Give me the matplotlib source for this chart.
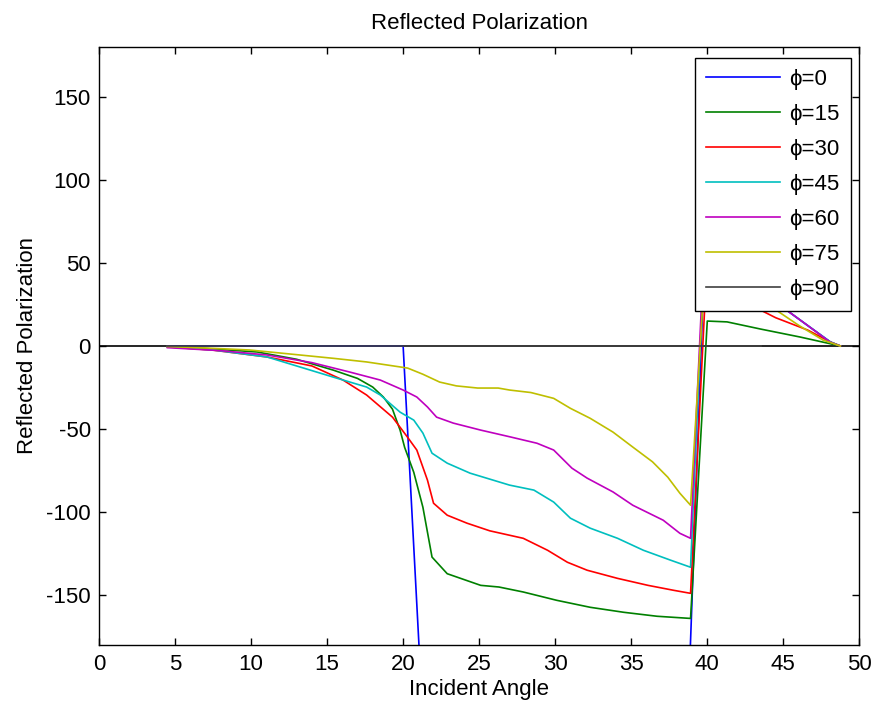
import matplotlib.pyplot as plt

plt.rcParams['font.family'] = ['Liberation Sans', 'DejaVu Sans']
plt.rcParams['axes.unicode_minus'] = False

# incident angle / reflected polarization for each phi
x0 = [4.5, 20.0, 21.1, 38.85, 39.9, 42.0, 44.0, 45.0, 46.5, 48.1, 48.75]
y0 = [0, 0, -190, -190, 75, 52, 32, 23, 13, 2.4, 0]

x15 = [4.5, 7.0, 10.4, 13.0, 15.4, 17.0, 18.0, 18.7, 19.3, 19.8, 20.1, 20.7, 21.3, 21.9, 22.9,
       25.1, 26.3, 27.9, 30.1, 32.3, 34.5, 36.7, 38.9, 40.0, 41.3, 43.5, 46.1, 48.75]
y15 = [-0.5, -1.5, -3.6, -8, -14.5, -19.5, -24.7, -30.7, -38, -50.6, -61, -76, -97, -127, -137,
       -144, -145, -148, -153, -157.2, -160.2, -162.6, -163.9, 15, 14.5, 10.2, 5.4, 0]

x30 = [4.5, 7.5, 11.05, 14.0, 16.05, 17.6, 19.3, 20.3, 20.9, 21.6, 22.0, 22.9, 24.2, 25.7, 27.9,
       29.5, 30.8, 32.1, 34.1, 36.1, 37.8, 38.9, 39.9, 41.0, 42.2, 43.2, 44.5, 46.6, 48.1, 48.75]
y30 = [-0.5, -2.5, -6.6, -12, -20.5, -29.5, -42.8, -55, -62.6, -80.7, -94.6, -101.8, -106.6, -111.2, -115.7,
       -122.9, -130.1, -134.9, -139.8, -144, -147, -148.8, 36, 32, 27.5, 23, 17, 9.6, 2.4, 0]

x45 = [4.5, 7.5, 11.05, 15.4, 17.6, 18.5, 19.8, 20.7, 21.3, 21.9, 22.9, 24.4, 25.7, 27.0, 28.6,
       29.9, 31.0, 32.3, 34.1, 35.8, 37.6, 38.9, 39.9, 42.0, 44.0, 45.0, 46.5, 48.1, 48.75]
y45 = [-0.5, -2.4, -6.6, -18.7, -24.7, -29.5, -39.8, -44.6, -52.4, -64.5, -70.5, -76.5, -80.1, -83.7, -86.7,
       -93.9, -103.6, -109.6, -115.7, -122.9, -128.9, -133.1, 75, 52, 32, 23, 13, 2.4, 0]

x60 = [4.5, 8.0, 11.05, 14.0, 16.5, 18.5, 20.0, 20.9, 21.6, 22.2, 23.3, 25.1, 27.0, 28.8, 29.9,
       31.1, 32.1, 33.8, 35.1, 37.1, 38.2, 38.9, 39.9, 42.0, 44.0, 45.0, 46.5, 48.1, 48.75]
y60 = [-1, -2.8, -5.4, -10, -15.7, -20.5, -26.5, -30.7, -36.7, -42.8, -46.4, -50.6, -54.6, -58.5, -62.6,
       -73.5, -79.5, -87.8, -95.8, -104.8, -112.7, -115.7, 80, 55, 34, 23, 13, 2.2, 0]

x75 = [4.5, 7.0, 9.9, 13.2, 15.5, 17.6, 19.8, 20.3, 21.3, 22.4, 23.5, 24.9, 26.25, 27.0, 28.4,
       29.9, 31.0, 32.3, 33.8, 35.1, 36.4, 37.4, 38.2, 38.9, 39.9, 41.5, 43.0, 44.3, 46.0, 47.6, 48.75]
y75 = [-0.3, -1.2, -2.4, -5.4, -7.5, -9.6, -12.6, -13.3, -17, -21.7, -24, -25.3, -25.3, -26.5, -28,
       -31.5, -37.5, -43.5, -51.8, -60.8, -69.7, -78.9, -88.6, -95.8, 55, 42, 30, 23, 12.5, 3.6, 0]

x90 = [4.5, 43.5]
y90 = [0, 0]

labels = ['\u03d5=0', '\u03d5=15', '\u03d5=30', '\u03d5=45', '\u03d5=60', '\u03d5=75', '\u03d5=90']
colors = ['#0000ff', '#008000', '#ff0000', '#00bfbf', '#bf00bf', '#bfbf00', '#404040']

fig = plt.figure(figsize=(8.72, 7.09), dpi=100)
ax = fig.add_axes([0.1135, 0.090, 0.872, 0.844])

ax.axhline(0, color='black', lw=1.2, zorder=1)
series = [(x0, y0), (x15, y15), (x30, y30), (x45, y45), (x60, y60), (x75, y75), (x90, y90)]
for (xs, ys), lab, c in zip(series, labels, colors):
    ax.plot(xs, ys, color=c, lw=1.2, label=lab)

ax.set_xlim(0, 50)
ax.set_ylim(-180, 180)
ax.set_xticks(range(0, 51, 5))
ax.set_yticks(range(-150, 151, 50))
ax.tick_params(direction='in', top=True, right=True, length=5, width=1, labelsize=16, pad=6)
for s in ax.spines.values():
    s.set_linewidth(1)

ax.set_title('Reflected Polarization', fontsize=16, pad=13)
ax.set_xlabel('Incident Angle', fontsize=16, labelpad=3)
ax.set_ylabel('Reflected Polarization', fontsize=16, labelpad=6)

leg = ax.legend(loc='upper right', bbox_to_anchor=(0.989, 0.982), borderaxespad=0,
                fancybox=False, shadow=False, fontsize=16, handlelength=3.3,
                labelspacing=0.63, handletextpad=0.45, borderpad=0.5)
leg.get_frame().set_edgecolor('black')
leg.get_frame().set_linewidth(1)
leg.get_frame().set_alpha(1)

fig.savefig('out.png', dpi=100, facecolor='white')
